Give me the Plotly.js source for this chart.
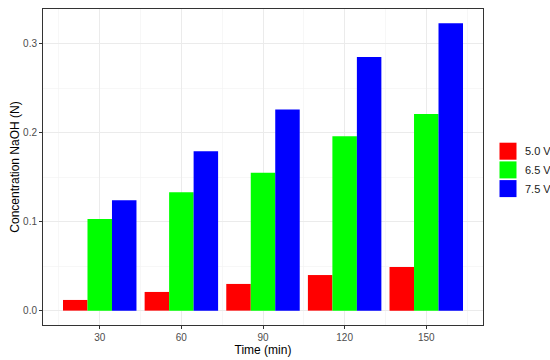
<!DOCTYPE html>
<html><head><meta charset="utf-8">
<script src="https://cdn.plot.ly/plotly-3.0.1.min.js"></script>
<style>body{margin:0}#c{width:550px;height:360px}</style>
</head><body><div id="c"></div>
<script>
const times = [30, 60, 90, 120, 150];
const seriesNames = ['5.0 V', '6.5 V', '7.5 V'];
const v50 = [0.012, 0.021, 0.030, 0.040, 0.049];
const v65 = [0.103, 0.133, 0.155, 0.196, 0.221];
const v75 = [0.124, 0.179, 0.226, 0.285, 0.323];
const colors = ['#ff0000', '#00ff00', '#0000ff'];
const seriesVals = [v50, v65, v75];

const W = 550, H = 360, mL = 43, mR = 67, mT = 9, mB = 35;
const pw = W - mL - mR, ph = H - mT - mB;
const px2x = p => (p - mL) / pw;
const px2y = p => (H - mB - p) / ph;

const traces = seriesVals.map((v, i) => ({
  type: 'bar', x: times, y: v, name: seriesNames[i],
  marker: {color: colors[i], line: {width: 0}}, showlegend: false,
  hoverinfo: 'x+y'
}));

const shapes = [], annotations = [];
seriesNames.forEach((n, i) => {
  const top = 142.7 + i * 18.7;
  shapes.push({type: 'rect', xref: 'paper', yref: 'paper',
    x0: px2x(499.5), x1: px2x(516.5), y0: px2y(top + 17), y1: px2y(top),
    fillcolor: colors[i], line: {width: 0}});
  annotations.push({xref: 'paper', yref: 'paper', x: px2x(523), y: px2y(top + 8.5),
    xanchor: 'left', yanchor: 'middle', text: n, showarrow: false,
    font: {size: 11, color: '#1a1a1a'}});
});

const layout = {
  width: W, height: H,
  margin: {l: mL, r: mR, t: mT, b: mB},
  paper_bgcolor: '#ffffff', plot_bgcolor: '#ffffff',
  font: {family: 'Arial, Liberation Sans, sans-serif', color: '#4d4d4d', size: 10},
  barmode: 'group', bargap: 0.1, bargroupgap: 0,
  showlegend: false,
  xaxis: {
    range: [9.15, 170.85], tickvals: times, ticktext: times.map(String),
    showgrid: true, gridcolor: '#ebebeb', gridwidth: 1,
    minor: {tickvals: [15, 45, 75, 105, 135, 165], showgrid: true, gridcolor: '#f2f2f2', gridwidth: 0.6, ticks: ''},
    showline: true, mirror: true, linecolor: '#333333', linewidth: 1,
    ticks: 'outside', ticklen: 3, tickcolor: '#333333', tickwidth: 1,
    zeroline: false, automargin: false,
    tickfont: {size: 10, color: '#4d4d4d'},
    title: {text: 'Time (min)', font: {size: 12, color: '#000000'}, standoff: 1}
  },
  yaxis: {
    range: [-0.01615, 0.339], tickvals: [0, 0.1, 0.2, 0.3], ticktext: ['0.0', '0.1', '0.2', '0.3'],
    showgrid: true, gridcolor: '#ebebeb', gridwidth: 1,
    minor: {tickvals: [0.05, 0.15, 0.25], showgrid: true, gridcolor: '#f2f2f2', gridwidth: 0.6, ticks: ''},
    showline: true, mirror: true, linecolor: '#333333', linewidth: 1,
    ticks: 'outside', ticklen: 3, tickcolor: '#333333', tickwidth: 1,
    zeroline: false, automargin: false,
    tickfont: {size: 10, color: '#4d4d4d'},
    title: {text: 'Concentration NaOH (N)', font: {size: 12, color: '#000000'}, standoff: 0}
  },
  shapes: shapes, annotations: annotations
};
Plotly.newPlot('c', traces, layout, {staticPlot: true, displayModeBar: false});
</script></body></html>
